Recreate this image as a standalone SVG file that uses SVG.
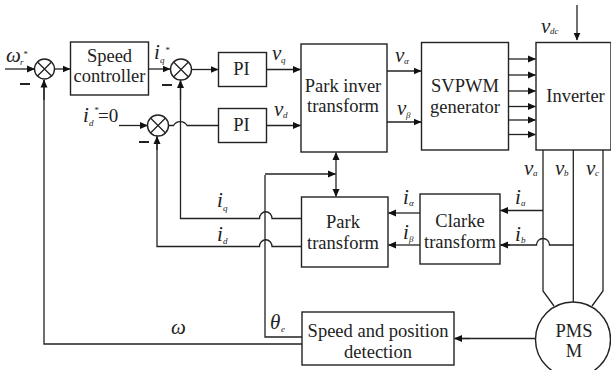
<svg xmlns="http://www.w3.org/2000/svg" width="611" height="370" viewBox="0 0 611 370">
<style>
.b{fill:#fff;stroke:#222;stroke-width:1.4}
.l{fill:none;stroke:#222;stroke-width:1.3}
.a{fill:none;stroke:#222;stroke-width:1.3;marker-end:url(#ah)}
text{font-family:"Liberation Serif",serif;fill:#222}
.t{font-size:18.500px;text-anchor:middle}
.v{font-size:21px;font-style:italic}
.s{font-size:9px;font-style:italic}
</style>
<defs><marker id="ah" markerUnits="userSpaceOnUse" markerWidth="8" markerHeight="8" refX="7.500" refY="4" orient="auto"><path d="M0 0.500L8 4L0 7.500Z" fill="#111"/></marker></defs>
<g id="connectors">
<path class="a" d="M5 69H34.500"/>
<path class="a" d="M55 69H70"/>
<path class="a" d="M148.500 69H170"/>
<path class="a" d="M192 69.500H218"/>
<path class="a" d="M266.500 69.500H300.500"/>
<path class="a" d="M119 125.500H147.500"/>
<path class="l" d="M168.500 125.500H173.500A7.500 7 0 0 1 187 125.500H218.500"/>
<path class="a" d="M266.500 125.500H300.500"/>
<path class="a" d="M387 71H421"/>
<path class="a" d="M387 122H421"/>
<path class="a" d="M508.500 59H535.500"/>
<path class="a" d="M508.500 75H535.500"/>
<path class="a" d="M508.500 91H535.500"/>
<path class="a" d="M508.500 106.500H535.500"/>
<path class="a" d="M508.500 120H535.500"/>
<path class="a" d="M508.500 134.500H535.500"/>
<path class="a" d="M577 5V40"/>
<path class="l" d="M543 150V291L554 306"/>
<path class="l" d="M573.300 150V302"/>
<path class="l" d="M603 150V291L592 306"/>
<path class="a" d="M543 210.500H500.500"/>
<path class="l" d="M573.300 245H549.500A6.500 6.500 0 0 0 536.500 245H500.500"/>
<path class="a" d="M510 245H500.500"/>
<path class="a" d="M420 213H388.500"/>
<path class="a" d="M420 245H388.500"/>
<path class="l" d="M536 338.500H455"/>
<path class="a" d="M470 338.500H454.500"/>
<path class="l" d="M301.500 218.500H272A6 6.500 0 0 0 259.500 218.500H180.500V80.500"/>
<path class="a" d="M180.500 100V80.500"/>
<path class="l" d="M301.500 246.500H272A6 6.500 0 0 0 259.500 246.500H157V136.500"/>
<path class="a" d="M157 150V136.500"/>
<path class="l" d="M302 337H265V175"/>
<path class="a" d="M265 174H335.500"/>
<path class="a" d="M336 175V152.500"/>
<path class="a" d="M336 175V196.500"/>
<path class="l" d="M302 344H44V80"/>
<path class="a" d="M44 100V80"/>
</g>
<g id="sum1"><circle class="b" cx="44.500" cy="69" r="10"/><path class="l" d="M37.500 62L51.500 76M51.500 62L37.500 76"/></g>
<g id="speed-controller"><rect class="b" x="70.500" y="42" width="78" height="53"/><text class="t" x="109.500" y="62">Speed</text><text class="t" x="109.500" y="82">controller</text></g>
<g id="sum2"><circle class="b" cx="181" cy="69.500" r="10.500"/><path class="l" d="M173.500 62L188.500 77M188.500 62L173.500 77"/></g>
<g id="pi1"><rect class="b" x="218.500" y="52.500" width="48" height="34"/><text class="t" x="241.500" y="75">PI</text></g>
<g id="sum3"><circle class="b" cx="158" cy="125.500" r="10.500"/><path class="l" d="M150.500 118L165.500 133M165.500 118L150.500 133"/></g>
<g id="pi2"><rect class="b" x="218.500" y="108.500" width="48" height="34"/><text class="t" x="241.500" y="131">PI</text></g>
<g id="park-inverse"><rect class="b" x="301" y="44" width="86" height="108"/><text class="t" x="343" y="92">Park inver</text><text class="t" x="343" y="112">transform</text></g>
<g id="svpwm"><rect class="b" x="421.500" y="42.500" width="87" height="107.500"/><text class="t" x="465" y="92">SVPWM</text><text class="t" x="465" y="112.500">generator</text></g>
<g id="inverter"><rect class="b" x="536" y="42.500" width="75" height="107.500"/><text class="t" x="575.500" y="102">Inverter</text></g>
<g id="park"><rect class="b" x="301.500" y="197" width="86.500" height="70"/><text class="t" x="343" y="228">Park</text><text class="t" x="343" y="249">transform</text></g>
<g id="clarke"><rect class="b" x="420" y="194" width="80" height="70"/><text class="t" x="460" y="227">Clarke</text><text class="t" x="460" y="248">transform</text></g>
<g id="speed-position"><rect class="b" x="302" y="312" width="152" height="53"/><text class="t" x="378" y="336.500">Speed and position</text><text class="t" x="378" y="357.500">detection</text></g>
<g id="pmsm"><circle class="b" cx="573" cy="339.500" r="37.500"/><text class="t" x="574" y="337">PMS</text><text class="t" x="574" y="357">M</text></g>
<g id="labels">
<text class="v" x="6" y="62">ω</text><text class="s" x="20" y="65">r</text><text class="s" x="23" y="57">*</text>
<rect x="20" y="83" width="10" height="2" fill="#222"/>
<text class="v" x="154" y="59">i</text><text class="s" x="160" y="63">q</text><text class="s" x="165" y="53">*</text>
<rect x="162" y="84" width="10" height="2" fill="#222"/>
<rect x="139" y="141" width="10" height="2" fill="#222"/>
<text class="v" x="83" y="122">i</text><text class="s" x="89" y="126">d</text><text class="s" x="94" y="113">*</text><text x="98" y="122" font-size="19">=0</text>
<text class="v" x="272" y="60">v</text><text class="s" x="281" y="63">q</text>
<text class="v" x="274" y="116">v</text><text class="s" x="283" y="118">d</text>
<text class="v" x="395" y="62">v</text><text class="s" x="404" y="64">α</text>
<text class="v" x="397" y="115">v</text><text class="s" x="406" y="118">β</text>
<text class="v" x="541" y="33">v</text><text class="s" x="550" y="34">dc</text>
<text class="v" x="524" y="175">v</text><text class="s" x="533" y="176">a</text>
<text class="v" x="555" y="175">v</text><text class="s" x="564" y="176">b</text>
<text class="v" x="586" y="175">v</text><text class="s" x="595" y="176">c</text>
<text class="v" x="515" y="204">i</text><text class="s" x="521" y="206">a</text>
<text class="v" x="515" y="241">i</text><text class="s" x="521" y="243">b</text>
<text class="v" x="403" y="204">i</text><text class="s" x="409" y="206">α</text>
<text class="v" x="403" y="239">i</text><text class="s" x="409" y="242">β</text>
<text class="v" x="217" y="207">i</text><text class="s" x="223" y="211">q</text>
<text class="v" x="217" y="241">i</text><text class="s" x="223" y="244">d</text>
<text class="v" x="171" y="334">ω</text>
<text class="v" x="270" y="329">θ</text><text class="s" x="281" y="332">e</text>
</g>
</svg>
